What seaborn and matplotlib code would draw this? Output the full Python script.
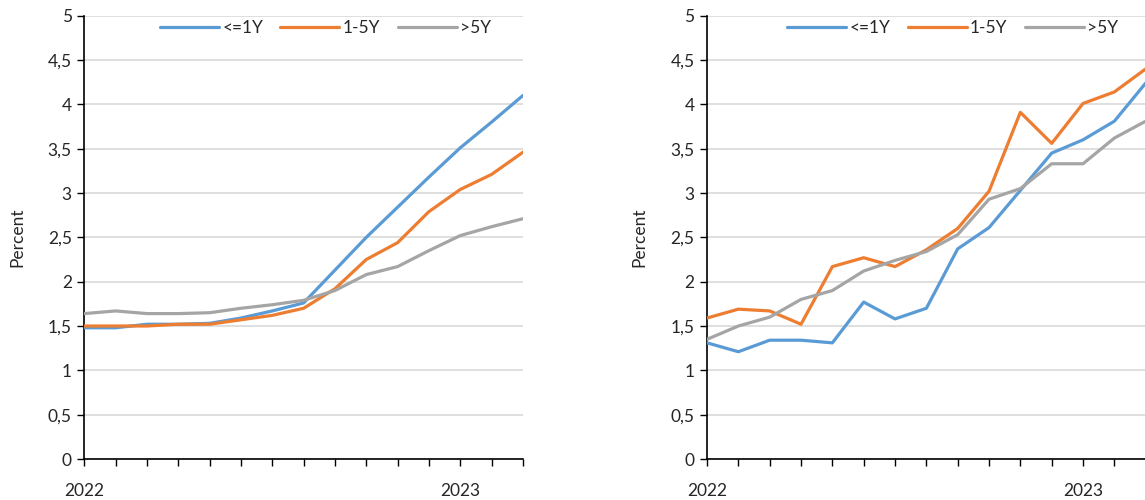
import pandas as pd
import matplotlib.pyplot as plt
import seaborn as sns

# Month index (Jan 2022 .. Mar 2023) and tick labels
months = list(range(15))
month_labels = ['2022', '', '', '', '', '', '', '', '', '', '', '', '2023', '', '']
series_names = ['<=1Y', '1-5Y', '>5Y']

# Left panel values (percent)
left_short = [1.48, 1.48, 1.52, 1.52, 1.53, 1.59, 1.67, 1.76, 2.13, 2.50, 2.84, 3.18, 3.51, 3.80, 4.10]
left_mid = [1.50, 1.50, 1.50, 1.52, 1.52, 1.57, 1.62, 1.70, 1.92, 2.25, 2.44, 2.79, 3.04, 3.21, 3.46]
left_long = [1.64, 1.67, 1.64, 1.64, 1.65, 1.70, 1.74, 1.79, 1.90, 2.08, 2.17, 2.35, 2.52, 2.62, 2.71]

# Right panel values (percent)
right_short = [1.31, 1.21, 1.34, 1.34, 1.31, 1.77, 1.58, 1.70, 2.37, 2.61, 3.03, 3.45, 3.60, 3.81, 4.24]
right_mid = [1.59, 1.69, 1.67, 1.52, 2.17, 2.27, 2.17, 2.36, 2.60, 3.02, 3.91, 3.56, 4.01, 4.14, 4.40]
right_long = [1.35, 1.50, 1.60, 1.80, 1.90, 2.12, 2.24, 2.34, 2.53, 2.93, 3.05, 3.33, 3.33, 3.62, 3.81]

y_ticks = [0, 0.5, 1, 1.5, 2, 2.5, 3, 3.5, 4, 4.5, 5]
y_labels = ['0', '0,5', '1', '1,5', '2', '2,5', '3', '3,5', '4', '4,5', '5']

colors = {'<=1Y': '#5B9BD5', '1-5Y': '#ED7D31', '>5Y': '#A5A5A5'}

sns.set_style('white')
plt.rcParams['font.family'] = ['Lato', 'DejaVu Sans']


def long_frame(short, mid, long_):
    rows = []
    for name, vals in zip(series_names, [short, mid, long_]):
        for m, v in zip(months, vals):
            rows.append({'month': m, 'value': v, 'series': name})
    return pd.DataFrame(rows)


fig = plt.figure(figsize=(11.45, 5), dpi=100)
ax1 = fig.add_axes([0.0736, 0.082, 0.3831, 0.8866])
ax2 = fig.add_axes([0.6175, 0.082, 0.3831, 0.8866])

panels = [(ax1, long_frame(left_short, left_mid, left_long), 0.55),
          (ax2, long_frame(right_short, right_mid, right_long), 0.56)]

for ax, df, leg_x in panels:
    sns.lineplot(data=df, x='month', y='value', hue='series', palette=colors,
                 hue_order=series_names, linewidth=2.3, ax=ax, zorder=3)
    ax.set_xlim(0, 14)
    ax.set_ylim(0, 5)
    ax.set_yticks(y_ticks)
    ax.set_yticklabels(y_labels)
    ax.set_xticks(months)
    ax.set_xticklabels(month_labels)
    ax.grid(axis='y', color='#D9D9D9', linewidth=1.2, zorder=0)
    ax.set_axisbelow(True)
    for s in ['top', 'right']:
        ax.spines[s].set_visible(False)
    for s in ['left', 'bottom']:
        ax.spines[s].set_color('black')
        ax.spines[s].set_linewidth(1.2)
    ax.tick_params(axis='y', direction='out', length=5, width=1, pad=4,
                   labelsize=12.5, color='black', left=True)
    ax.tick_params(axis='x', direction='out', length=5, width=1, pad=12,
                   labelsize=12.5, color='black', bottom=True)
    ax.set_xlabel('')
    ax.set_ylabel('Percent', fontsize=12.5)
    ax.yaxis.set_label_coords(-0.135, 0.5)
    ax.legend(title=None, loc='center', bbox_to_anchor=(leg_x, 0.972), ncol=3,
              frameon=False, fontsize=12.5, handlelength=3.4, handletextpad=0.2,
              columnspacing=1.0, borderaxespad=0)

fig.savefig('out.png', dpi=100)
